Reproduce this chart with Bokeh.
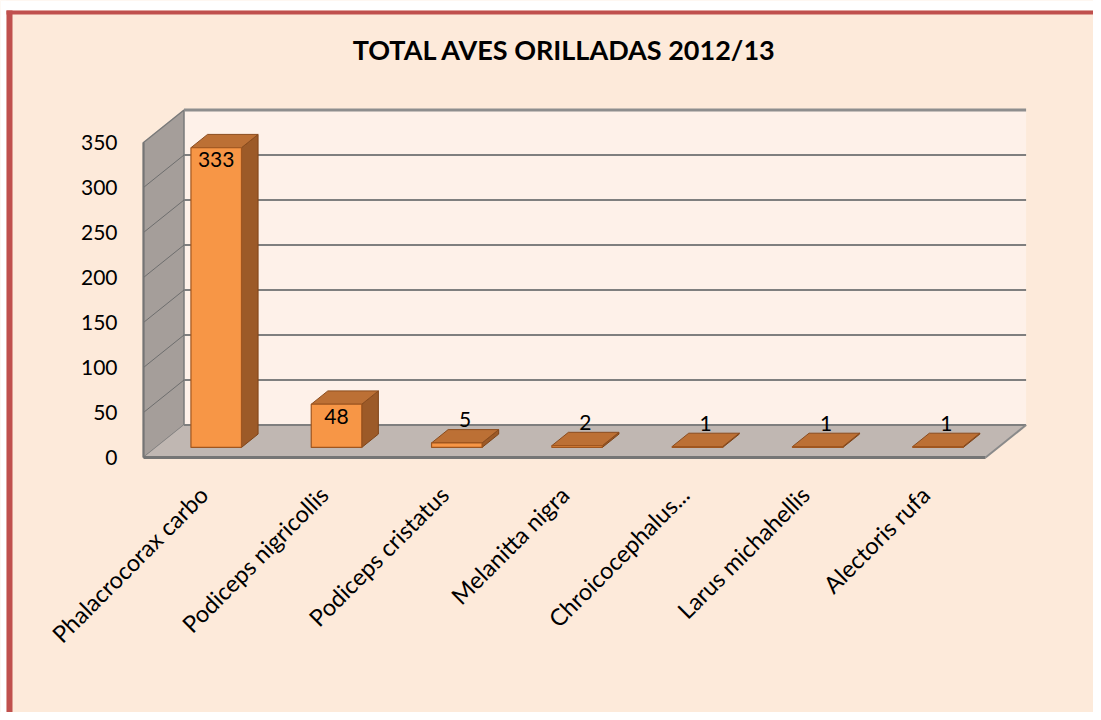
import math
from bokeh.plotting import figure
from bokeh.models import Range1d, FixedTicker, Label, BoxAnnotation
from bokeh.embed import file_html
from bokeh.resources import INLINE
from bokeh.core.properties import value

# ---------------- data ----------------
categories = ["Phalacrocorax carbo", "Podiceps nigricollis", "Podiceps cristatus",
              "Melanitta nigra", "Chroicocephalus...", "Larus michahellis", "Alectoris rufa"]
counts = [333, 48, 5, 2, 1, 1, 1]
y_ticks = [0, 50, 100, 150, 200, 250, 300, 350]
title_text = "TOTAL AVES ORILLADAS 2012/13"

# ---------------- layout / projection ----------------
W, H = 1093, 712
ORIGIN_X, ORIGIN_Y = 143, 457   # canvas position of (x=0, value=0) on the front plane
PX_CAT = 120.3                  # pixels per category
PX_VAL = 0.9                    # pixels per unit
n = len(categories)
vmax = y_ticks[-1]
DX = 40.5 / PX_CAT              # depth offset in x (data units)
DY = 32.5 / PX_VAL              # depth offset in y (data units)
D0, D1 = 0.31, 0.72             # bar front / back depth fraction
HW = 0.21                       # half bar width

BG = "#FDEADA"
FONT = "Lato"

x_start = -ORIGIN_X / PX_CAT
y_end = ORIGIN_Y / PX_VAL
p = figure(width=W, height=H, output_backend="svg", toolbar_location=None,
           x_range=Range1d(x_start, x_start + W / PX_CAT),
           y_range=Range1d(y_end - H / PX_VAL, y_end))
p.min_border = 0
p.min_border_left = 0
p.min_border_right = 0
p.min_border_top = 0
p.min_border_bottom = 0
p.background_fill_color = BG
p.border_fill_color = BG
p.outline_line_color = None
p.grid.visible = False

# ---- walls ----
p.quad(left=DX, right=n + DX, bottom=DY, top=vmax + DY,
       fill_color="#FEF1E9", line_color=None)
p.patch([0, 0, DX, DX], [0, vmax, vmax + DY, DY],
        fill_color="#A59E9A", line_color="#7A7A7A", line_width=1.5)
p.patch([0, n, n + DX, DX], [0, 0, DY, DY],
        fill_color="#C0B7B2", line_color=None)

grid_vals = [t for t in y_ticks if 0 < t < vmax]
p.segment(x0=[DX] * len(grid_vals), y0=[t + DY for t in grid_vals],
          x1=[n + DX] * len(grid_vals), y1=[t + DY for t in grid_vals],
          line_color="#7F7F7F", line_width=2)
p.segment(x0=[0] * len(grid_vals), y0=grid_vals,
          x1=[DX] * len(grid_vals), y1=[t + DY for t in grid_vals],
          line_color="#6E6E6E", line_width=1)
# wall edges
p.segment(x0=[DX, DX, 0, 0, n], y0=[vmax + DY, DY, 0, 0, 0],
          x1=[n + DX, n + DX, n, 0, n + DX], y1=[vmax + DY, DY, 0, vmax, DY],
          line_color=["#8E8E8E", "#7F7F7F", "#757575", "#757575", "#8A8A8A"],
          line_width=[3, 2, 3, 2, 2])

# ---- bars ----
fx, fy, sx, sy, tx, ty = [], [], [], [], [], []
for i, v in enumerate(counts):
    c = i + 0.5
    l0, r0 = c - HW + D0 * DX, c + HW + D0 * DX
    l1, r1 = c - HW + D1 * DX, c + HW + D1 * DX
    b0, b1 = D0 * DY, D1 * DY
    fx.append([l0, r0, r0, l0]); fy.append([b0, b0, v + b0, v + b0])
    sx.append([r0, r1, r1, r0]); sy.append([b0, b1, v + b1, v + b0])
    tx.append([l0, r0, r1, l1]); ty.append([v + b0, v + b0, v + b1, v + b1])

p.patches(sx, sy, fill_color="#9C5A28", line_color="#7E4418", line_width=1)
p.patches(tx, ty, fill_color="#BC7035", line_color="#8A4C1E", line_width=1)
p.patches(fx, fy, fill_color="#F79646", line_color="#A0561F", line_width=1.2)

# ---- data labels ----
in_x, in_y, in_t, out_x, out_y, out_t = [], [], [], [], [], []
for i, v in enumerate(counts):
    c = i + 0.5
    if v * PX_VAL > 25:
        in_x.append(c + D0 * DX); in_y.append(v + D0 * DY); in_t.append(str(v))
    else:
        out_x.append(c + (D0 + D1) / 2 * DX); out_y.append(v + D1 * DY); out_t.append(str(v))
p.text(in_x, in_y, text=in_t, text_align="center", text_baseline="middle", y_offset=12,
       text_font=value(FONT), text_font_size="21px", text_color="#000000")
p.text(out_x, out_y, text=out_t, text_align="center", text_baseline="middle", y_offset=-10,
       text_font=value(FONT), text_font_size="21px", text_color="#000000")

# ---- axes (drawn at the front edge of the floor / left wall) ----
yax = p.yaxis[0]
yax.fixed_location = 0
yax.ticker = FixedTicker(ticks=y_ticks)
yax.axis_line_color = None
yax.major_tick_line_color = None
yax.minor_tick_line_color = None
yax.major_label_standoff = 20
yax.major_label_text_font = FONT
yax.major_label_text_font_size = "21px"
yax.major_label_text_color = "#000000"

xax = p.xaxis[0]
xax.fixed_location = 0
xax.ticker = FixedTicker(ticks=[i + 0.5 for i in range(n)])
xax.major_label_overrides = {i + 0.5: name for i, name in enumerate(categories)}
xax.major_label_orientation = math.pi / 4
xax.axis_line_color = None
xax.major_tick_line_color = None
xax.minor_tick_line_color = None
xax.major_label_standoff = 27
xax.major_label_text_font = FONT
xax.major_label_text_font_size = "23.5px"
xax.major_label_text_color = "#000000"

# ---- title ----
p.add_layout(Label(x=n / 2, y=(ORIGIN_Y - 49) / PX_VAL, text=title_text,
                   text_align="center", text_baseline="middle",
                   text_font=FONT, text_font_style="bold", text_font_size="27px",
                   text_color="#000000"))

# ---- chart border (left / top), white page margin outside it ----
def canvas_box(l, r, t, b, color):
    return BoxAnnotation(left=l, right=r, top=t, bottom=b,
                         left_units="canvas", right_units="canvas",
                         top_units="canvas", bottom_units="canvas",
                         fill_color=color, fill_alpha=1, line_color=None, level="overlay")

p.add_layout(canvas_box(0, 6, 0, H, "#FFFFFF"))
p.add_layout(canvas_box(0, W, 0, 10, "#FFFFFF"))
p.add_layout(canvas_box(6, 12, 10, H, "#C0504D"))
p.add_layout(canvas_box(6, W, 10, 14, "#C0504D"))

open("out.html", "w").write(file_html(p, INLINE))
